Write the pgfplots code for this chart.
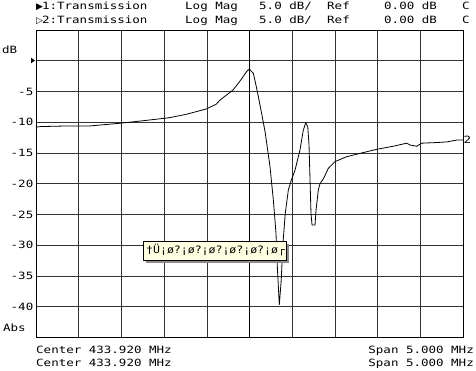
\documentclass[border=0pt]{standalone}
\usepackage{pgfplots}
\pgfplotsset{compat=1.18}
\usepackage{fontspec}
\newfontfamily\mono[FakeStretch=1.25]{DejaVu Sans Mono}
\newfontfamily\sym{DejaVu Sans}
\newfontfamily\tipfont[FakeStretch=1.13]{DejaVu Sans Mono}
\newcommand{\scr}{\fontsize{10}{12}\selectfont\mono}
\definecolor{tipbg}{HTML}{FFFFE1}
\begin{document}
\begin{tikzpicture}
\useasboundingbox (0pt,0pt) rectangle (476pt,370pt);
\begin{axis}[at={(36pt,32.5pt)}, anchor=south west, scale only axis,
  width=427pt, height=307.5pt,
  xmin=431.42, xmax=436.42, ymin=-45, ymax=5,
  xtick={431.92,432.42,432.92,433.42,434.42,434.92,435.42,435.92},
  xticklabels={},
  extra x ticks={433.92}, extra x tick labels={},
  extra x tick style={grid style={black, line width=1.2pt}},
  ytick={-40,-35,-30,-25,-20,-15,-10,-5,0},
  yticklabels={-40,-35,-30,-25,-20,-15,-10,-5,{}},
  yticklabel style={font=\scr, anchor=east, inner sep=0pt, xshift=-2.5pt},
  major tick length=0pt,
  grid=major,
  grid style={black!80, line width=0.6pt},
  axis line style={black, line width=0.9pt},
  clip=false,
]
\addplot[black, line width=0.8pt, mark=none] table {
f db
431.420 -10.78
431.480 -10.70
431.733 -10.62
432.052 -10.60
432.392 -10.18
432.669 -9.76
432.977 -9.27
433.177 -8.72
433.411 -7.85
433.528 -7.09
433.575 -6.39
433.727 -4.76
433.809 -3.30
433.844 -2.60
433.890 -1.70
433.918 -1.35
433.965 -2.05
434.004 -4.49
434.043 -7.20
434.102 -11.50
434.160 -17.20
434.199 -22.60
434.230 -28.00
434.246 -33.50
434.269 -39.70
434.292 -35.60
434.309 -30.20
434.339 -24.80
434.375 -21.00
434.410 -19.40
434.453 -17.80
434.511 -14.50
434.550 -11.30
434.578 -10.08
434.602 -10.70
434.617 -13.70
434.640 -24.80
434.652 -26.70
434.687 -26.70
434.699 -24.30
434.726 -21.00
434.745 -20.00
434.785 -19.20
434.843 -17.50
434.921 -16.40
435.058 -15.60
435.214 -15.06
435.410 -14.40
435.604 -13.90
435.761 -13.40
435.800 -13.70
435.878 -13.90
435.937 -13.40
436.112 -13.30
436.229 -13.20
436.346 -12.90
436.420 -12.90
};
\end{axis}
\begin{scope}[x=1pt,y=1pt]
% reference marker at 0 dB
\fill[black] (35,309.5) -- (31,312.3) -- (31,306.7) -- cycle;
% header
\node[anchor=base west, inner sep=0pt] at (36,360) {\fontsize{9}{10}\selectfont\sym ▶\kern-1pt\scr 1:Transmission};
\node[anchor=base west, inner sep=0pt] at (36,346) {\fontsize{9}{10}\selectfont\sym ▷\kern-1pt\scr 2:Transmission};
\foreach \yy in {360,346}{
  \node[anchor=base west, inner sep=0pt, font=\scr] at (185,\yy) {Log Mag};
  \node[anchor=base west, inner sep=0pt, font=\scr] at (259,\yy) {5.0 dB/};
  \node[anchor=base west, inner sep=0pt, font=\scr] at (327,\yy) {Ref};
  \node[anchor=base west, inner sep=0pt, font=\scr] at (384,\yy) {0.00 dB};
  \node[anchor=base west, inner sep=0pt, font=\scr] at (462,\yy) {C};
}
% side labels
\node[anchor=base west, inner sep=0pt, font=\scr] at (2,316) {dB};
\node[anchor=base west, inner sep=0pt, font=\scr] at (3,39) {Abs};
\node[anchor=west, inner sep=0pt, font=\scr] at (463.5,230) {2};
% footer
\node[anchor=base west, inner sep=0pt, font=\scr] at (36,16.5) {Center 433.920 MHz};
\node[anchor=base west, inner sep=0pt, font=\scr] at (36,4) {Center 433.920 MHz};
\node[anchor=base east, inner sep=0pt, font=\scr] at (474,16.5) {Span 5.000 MHz};
\node[anchor=base east, inner sep=0pt, font=\scr] at (474,4) {Span 5.000 MHz};
% tooltip
\fill[black!45] (145.5,107.5) rectangle (288.5,126.5);
\filldraw[fill=tipbg, draw=black, line width=0.6pt] (143,110) rectangle (286,129);
\node[anchor=west, inner sep=0pt] at (146,119.5) {\fontsize{10.2}{12}\selectfont\tipfont †Ü¡ø?¡ø?¡ø?¡ø?¡ø?¡ø┌};
\end{scope}
\end{tikzpicture}
\end{document}
